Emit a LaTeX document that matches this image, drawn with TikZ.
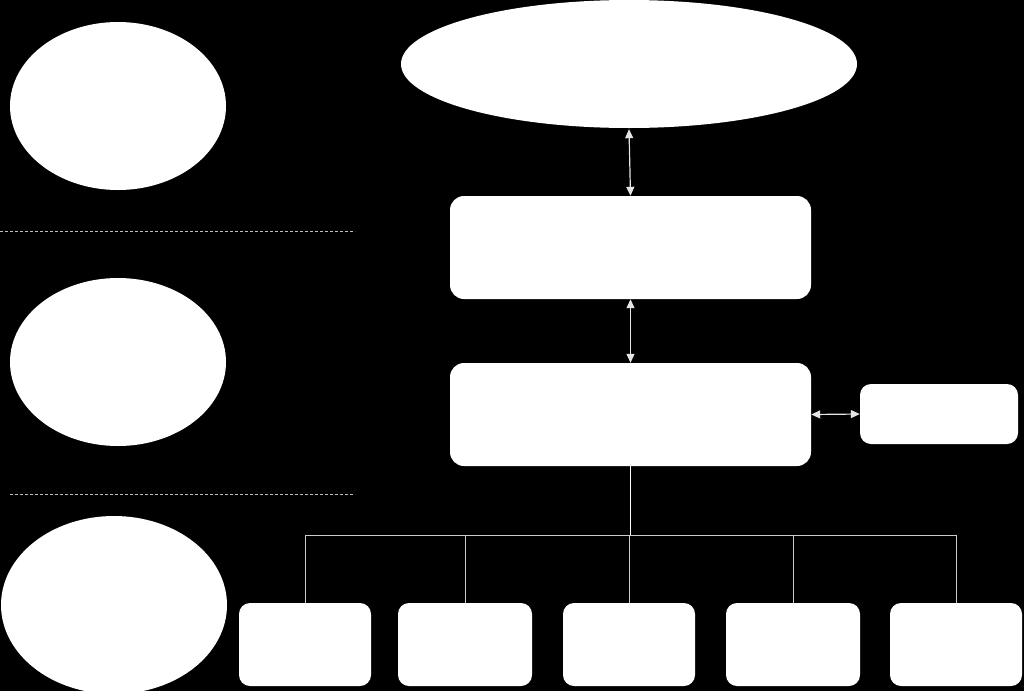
\documentclass[tikz,border=0pt]{standalone}
\usetikzlibrary{shapes.geometric,arrows.meta}
\begin{document}
\begin{tikzpicture}[x=1pt,y=-1pt,
  blob/.style={ellipse,fill=white,draw=none,inner sep=0pt},
  rbox/.style={rectangle,rounded corners=14pt,fill=white,draw=none,inner sep=0pt},
  sbox/.style={rectangle,rounded corners=11pt,fill=white,draw=none,inner sep=0pt},
  sep/.style={draw=white!75!black,line width=0.8pt,dash pattern=on 3pt off 2pt},
  twoway/.style={draw=white!90!black,line width=1.2pt,{Triangle[width=8pt,length=9pt]}-{Triangle[width=8pt,length=9pt]}},
  trunk/.style={draw=white,line width=1.8pt},
  branch/.style={draw=white!80!black,line width=0.9pt}]
\fill[black] (0,0) rectangle (1024,691);
\useasboundingbox (0,0) rectangle (1024,691);
% ellipses
\node[blob,minimum width=456pt,minimum height=128pt] (top) at (629,64) {};
\node[blob,minimum width=216pt,minimum height=168pt] (l1) at (118,106) {};
\node[blob,minimum width=216pt,minimum height=168pt] (l2) at (118,362) {};
\node[blob,minimum width=226pt,minimum height=178pt] (l3) at (114,605) {};
% separators
\coordinate (d1a) at (0,231); \coordinate (d1b) at (355,231);
\coordinate (d2a) at (10,494); \coordinate (d2b) at (355,494);
\draw[sep] (d1a) -- (d1b);
\draw[sep] (d2a) -- (d2b);
% main boxes
\node[rbox,minimum width=361pt,minimum height=103pt] (b1) at (630.5,247.5) {};
\node[rbox,minimum width=361pt,minimum height=103pt] (b2) at (630.5,414.5) {};
\node[sbox,minimum width=158pt,minimum height=60pt] (side) at (939,414) {};
% bottom boxes
\node[sbox,minimum width=132pt,minimum height=83pt] (c1) at (305,644.5) {};
\node[sbox,minimum width=134pt,minimum height=83pt] (c2) at (465,644.5) {};
\node[sbox,minimum width=132pt,minimum height=83pt] (c3) at (629,644.5) {};
\node[sbox,minimum width=134pt,minimum height=83pt] (c4) at (793,644.5) {};
\node[sbox,minimum width=132pt,minimum height=83pt] (c5) at (956,644.5) {};
% arrows
\draw[twoway] ([yshift=-1pt]top.south) -- (b1.north);
\draw[twoway] (b1.south) -- (b2.north);
\draw[twoway] (b2.east) -- (side.west);
% tree
\coordinate (j) at (630.5,535);
\draw[trunk] (b2.south) -- (j);
\draw[branch] (c1.north |- j) -- (c5.north |- j);
\foreach \c in {c1,c2,c3,c4,c5} \draw[branch] (\c.north) -- (\c.north |- j);
\end{tikzpicture}
\end{document}
